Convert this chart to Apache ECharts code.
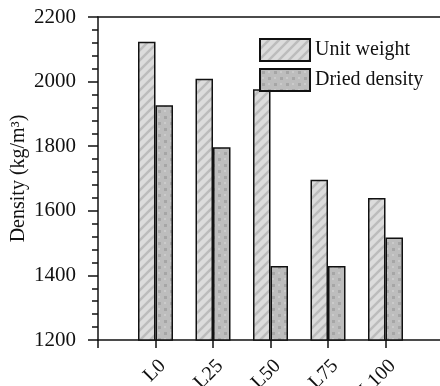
<!DOCTYPE html>
<html>
<head>
<meta charset="utf-8">
<script src="https://cdn.jsdelivr.net/npm/echarts@6/dist/echarts.min.js"></script>
<style>
  html, body { margin: 0; padding: 0; background: #fff; }
  #chart1 { width: 440px; height: 386px; }
</style>
</head>
<body>
<div id="chart1"></div>
<script>
var categories = ['', 'L0', 'L25', 'L50', 'L75', 'L100', ''];
var unitWeight = [null, 2123, 2009, 1976, 1696, 1640, null];
var driedDensity = [null, 1927, 1797, 1429, 1429, 1517, null];
var yTicks = { min: 1200, max: 2200, step: 200 };

// hatch patterns for the bars
function stripeTile() {
    var c = document.createElement('canvas');
    c.width = 10; c.height = 10;
    var g = c.getContext('2d');
    g.fillStyle = '#dcdcdc';
    g.fillRect(0, 0, 10, 10);
    g.strokeStyle = '#bcbcbc';
    g.lineWidth = 2.5;
    g.beginPath();
    g.moveTo(-2, 12); g.lineTo(12, -2);
    g.moveTo(-7, 7); g.lineTo(7, -7);
    g.moveTo(3, 17); g.lineTo(17, 3);
    g.stroke();
    return c;
}
function dotTile() {
    var c = document.createElement('canvas');
    c.width = 12; c.height = 12;
    var g = c.getContext('2d');
    g.fillStyle = '#bdbdbd';
    g.fillRect(0, 0, 12, 12);
    g.fillStyle = '#a6a6a6';
    g.fillRect(2, 2, 3, 3);
    g.fillRect(8, 8, 3, 3);
    g.fillStyle = '#cbcbcb';
    g.fillRect(8, 2, 2, 2);
    g.fillRect(2, 8, 2, 2);
    return c;
}

var chartDom = document.getElementById('chart1');
var myChart1 = echarts.init(chartDom);
var font = 'Liberation Serif';
var option = {
    animation: false,
    textStyle: { fontFamily: font, color: '#111' },
    legend: {
        orient: 'vertical',
        left: 254,
        top: 33,
        itemWidth: 50,
        itemHeight: 22,
        itemGap: 6,
        icon: 'rect',
        textStyle: { fontFamily: font, fontSize: 20, color: '#111' },
        data: ['Unit weight', 'Dried density']
    },
    grid: { left: 98, top: 17, width: 345, bottom: 46, containLabel: false, outerBoundsMode: 'none' },
    xAxis: [
        {
            type: 'category',
            data: categories,
            boundaryGap: false,
            axisLine: { lineStyle: { color: '#111', width: 1.5 } },
            axisTick: { show: true, length: 8, lineStyle: { color: '#111', width: 1.5 } },
            axisLabel: {
                rotate: 45, fontSize: 20, color: '#111', fontFamily: font,
                margin: 16, interval: 0, verticalAlign: 'top'
            }
        },
        {
            type: 'category',
            data: categories,
            boundaryGap: false,
            position: 'top',
            axisLine: { lineStyle: { color: '#111', width: 1.5 } },
            axisTick: { show: false },
            axisLabel: { show: false }
        }
    ],
    yAxis: {
        type: 'value',
        min: yTicks.min,
        max: yTicks.max,
        interval: yTicks.step,
        name: 'Density (kg/m³)',
        nameLocation: 'middle',
        nameGap: 69,
        nameMoveOverlap: false,
        nameTextStyle: { fontFamily: font, fontSize: 20, color: '#111' },
        axisLine: { show: true, lineStyle: { color: '#111', width: 1.5 } },
        axisTick: { show: true, length: 10, lineStyle: { color: '#111', width: 1.5 } },
        minorTick: { show: true, splitNumber: 5, length: 6, lineStyle: { color: '#111', width: 1.5 } },
        splitLine: { show: false },
        axisLabel: {
            fontSize: 21, color: '#111', fontFamily: font, margin: 22,
            formatter: function (value) { return String(value); }
        }
    },
    series: [
        {
            name: 'Unit weight',
            type: 'bar',
            barWidth: 17.5,
            barGap: '0%',
            itemStyle: { color: { image: stripeTile(), repeat: 'repeat' }, borderColor: '#111', borderWidth: 1.5 },
            data: unitWeight
        },
        {
            name: 'Dried density',
            type: 'bar',
            barWidth: 17.5,
            barGap: '0%',
            itemStyle: { color: { image: dotTile(), repeat: 'repeat' }, borderColor: '#111', borderWidth: 1.5 },
            data: driedDensity
        }
    ]
};
myChart1.setOption(option);
</script>
</body>
</html>
